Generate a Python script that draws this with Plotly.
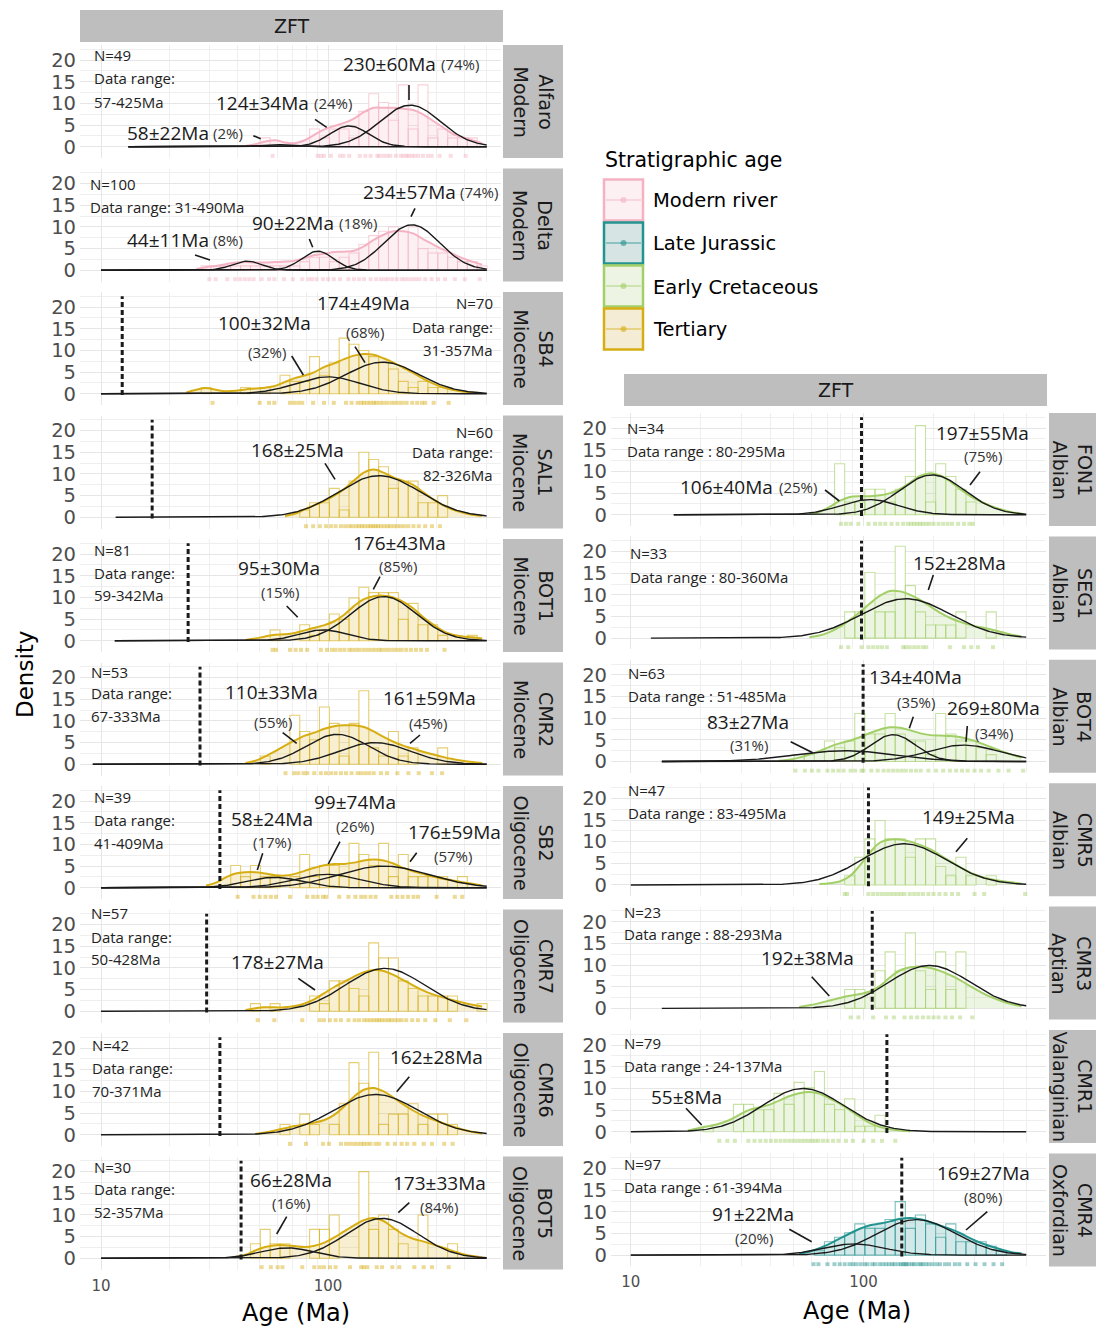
import numpy as np
import plotly.graph_objects as go

W, H = 1096, 1329

# ------------------------------------------------------------------ data
SAMPLES = ["Alfaro", "Delta", "SB4", "SAL1", "BOT1", "CMR2", "SB2", "CMR7", "CMR6", "BOT5",
           "FON1", "SEG1", "BOT4", "CMR5", "CMR3", "CMR1", "CMR4"]
STAGES = ["Modern", "Modern", "Miocene", "Miocene", "Miocene", "Miocene", "Oligocene", "Oligocene",
          "Oligocene", "Oligocene", "Albian", "Albian", "Albian", "Albian", "Aptian", "Valanginian",
          "Oxfordian"]
GROUPS = ["Modern river"] * 2 + ["Tertiary"] * 8 + ["Early Cretaceous"] * 6 + ["Late Jurassic"]
LEGEND_ORDER = ["Modern river", "Late Jurassic", "Early Cretaceous", "Tertiary"]
N_GRAINS = [49, 100, 70, 60, 81, 53, 39, 57, 42, 30, 34, 33, 63, 47, 23, 79, 97]
DATA_MIN = [57, 31, 31, 82, 59, 67, 41, 50, 70, 52, 80, 80, 51, 83, 88, 24, 61]
DATA_MAX = [425, 490, 357, 326, 342, 333, 409, 428, 371, 357, 295, 360, 485, 495, 293, 137, 394]
STRAT_AGE = [None, None, 12.4, 16.8, 24.2, 27.3, 33.4, 29.2, 33.4, 41.4,
             98, 98, 99.6, 105, 109, 126, 146]

# histogram: bins of 0.1 natural-log units, counts of grains per bin
BIN_WIDTH_LOG = 0.04343
BIN_ORIGIN_LOG = 0.008
FIRST_BIN = [39, 33, 33, 43, 40, 39, 36, 38, 41, 38, 43, 44, 39, 44, 44, 30, 41]
COUNTS = [
    [1, 0, 0, 0, 0, 2, 1, 2, 2, 1, 4, 6, 5, 3, 7, 2, 7, 1, 2, 1, 1, 1],
    [1, 1, 1, 1, 1, 1, 1, 1, 1, 1, 2, 3, 3, 2, 3, 4, 6, 8, 9, 10, 9, 10, 5, 4, 4, 3, 2, 2, 1],
    [1, 0, 0, 0, 1, 0, 1, 0, 3, 2, 2, 6, 3, 5, 9, 8, 7, 6, 5, 4, 2, 1, 2, 1, 1],
    [1, 2, 2, 4, 1, 5, 9, 8, 7, 4, 5, 5, 2, 2, 3],
    [2, 0, 0, 3, 1, 2, 5, 4, 8, 10, 9, 9, 9, 4, 7, 3, 3, 1, 0, 0, 1],
    [1, 0, 0, 6, 4, 3, 7, 5, 1, 5, 9, 2, 1, 4, 1, 2, 0, 0, 2],
    [2, 1, 2, 1, 1, 0, 1, 3, 1, 2, 2, 1, 4, 3, 2, 4, 1, 3, 1, 1, 1, 1, 0, 1],
    [1, 0, 1, 0, 0, 0, 2, 1, 4, 4, 3, 2, 9, 7, 7, 4, 3, 2, 2, 2, 2, 0, 0, 1],
    [1, 0, 2, 1, 0, 1, 3, 7, 5, 8, 1, 2, 2, 3, 1, 2, 2, 1],
    [1, 2, 1, 1, 0, 0, 2, 2, 3, 0, 0, 6, 2, 3, 2, 1, 0, 3, 0, 0, 1],
    [4, 1, 1, 2, 2, 1, 2, 3, 7, 1, 4, 3, 2, 1],
    [2, 2, 5, 2, 2, 7, 4, 2, 1, 1, 1, 2, 0, 0, 2],
    [1, 1, 0, 3, 2, 3, 7, 4, 4, 7, 4, 3, 3, 1, 7, 4, 3, 3, 2, 1],
    [1, 3, 5, 7, 5, 5, 3, 5, 5, 2, 1, 3, 1, 0, 1],
    [1, 1, 0, 2, 3, 2, 4, 2, 1, 3, 1, 3],
    [1, 0, 0, 5, 5, 4, 4, 7, 5, 9, 8, 11, 5, 4, 6, 1, 1, 3],
    [1, 3, 4, 5, 7, 6, 6, 8, 12, 6, 9, 7, 4, 7, 3, 3, 3, 2, 1],
]

# kernel density (percent per bin), read at bin centres
KDE_FIRST_BIN = [37, 32, 31, 41, 37, 37, 33, 37, 38, 36, 40, 40, 37, 41, 39, 28, 39]
KDE = [
    [0.2, 0.6, 1.2, 1.5, 1.0, 0.8, 1.5, 2.8, 4.0, 4.8, 5.5, 6.5, 8.0, 9.0, 9.0, 9.0, 8.8, 8.5, 7.5, 6.0, 4.5, 3.0, 2.2, 1.5, 0.8],
    [0.3, 0.7, 1.0, 1.4, 1.8, 1.9, 1.8, 1.8, 1.9, 2.0, 2.2, 2.8, 3.5, 3.8, 4.2, 4.3, 4.5, 5.5, 7.0, 8.2, 9.0, 9.0, 8.5, 7.2, 6.0, 4.8, 3.8, 2.8, 2.0, 1.3],
    [0.3, 0.9, 1.3, 0.9, 0.6, 0.7, 1.0, 1.2, 1.4, 1.8, 2.7, 3.6, 4.2, 5.0, 6.2, 7.0, 8.0, 8.8, 9.2, 9.0, 8.2, 7.2, 6.0, 4.8, 3.5, 2.4, 1.5, 0.9, 0.5, 0.3, 0.2],
    [0.3, 0.8, 1.8, 2.8, 3.8, 5.0, 6.5, 8.5, 10.3, 11.0, 10.3, 9.2, 8.4, 7.5, 5.8, 4.2, 2.8, 1.8, 1.1, 0.6, 0.3],
    [0.2, 0.5, 1.0, 1.4, 1.5, 1.8, 2.4, 3.0, 3.6, 4.5, 6.0, 8.0, 9.6, 10.3, 10.4, 10.0, 9.0, 7.5, 5.5, 3.8, 2.3, 1.4, 1.0, 0.8, 0.5],
    [0.3, 0.8, 1.8, 3.0, 4.3, 5.5, 6.6, 7.3, 8.2, 8.8, 9.0, 9.0, 8.6, 7.6, 6.3, 5.2, 4.3, 3.6, 2.9, 2.3, 1.7, 1.2, 0.8, 0.5, 0.3],
    [0.5, 1.2, 2.4, 3.3, 3.6, 3.6, 3.3, 2.9, 2.8, 3.2, 3.9, 4.6, 5.2, 5.5, 5.5, 5.8, 6.3, 6.5, 6.3, 5.6, 4.6, 3.8, 3.2, 2.6, 2.1, 1.7, 1.3, 0.9, 0.5],
    [0.3, 0.7, 0.9, 0.9, 0.9, 1.2, 1.8, 2.8, 4.2, 5.6, 6.8, 8.0, 9.0, 9.5, 9.3, 8.4, 7.2, 6.0, 4.8, 3.9, 3.2, 2.6, 2.0, 1.5, 1.1],
    [0.2, 0.5, 1.0, 1.5, 2.0, 2.4, 2.8, 3.4, 4.6, 6.5, 8.8, 10.4, 10.8, 10.0, 8.6, 7.0, 5.6, 4.4, 3.5, 2.7, 1.9, 1.2, 0.7, 0.3],
    [0.3, 0.8, 1.8, 2.6, 3.0, 3.0, 2.8, 2.6, 2.9, 3.6, 4.8, 6.2, 7.6, 8.8, 9.3, 8.6, 7.0, 5.5, 4.5, 3.9, 3.2, 2.5, 1.7, 1.0, 0.5, 0.2],
    [0.2, 0.7, 1.8, 3.2, 4.1, 4.3, 4.3, 4.5, 5.0, 6.0, 7.5, 9.0, 9.6, 9.0, 7.6, 5.8, 4.2, 3.0, 2.0, 1.2, 0.6, 0.3],
    [0.2, 0.6, 1.4, 2.6, 4.2, 6.0, 8.0, 9.8, 10.9, 10.8, 10.0, 8.8, 7.3, 5.8, 4.6, 3.7, 3.0, 2.5, 2.0, 1.4, 0.8, 0.4],
    [0.2, 0.4, 0.9, 1.6, 2.4, 3.4, 4.2, 4.8, 5.6, 6.6, 7.4, 7.9, 7.8, 7.2, 6.5, 6.1, 6.0, 5.9, 5.6, 5.0, 4.2, 3.3, 2.4, 1.6, 0.9],
    [0.2, 0.4, 0.8, 2.0, 4.5, 7.5, 9.8, 10.5, 10.5, 10.0, 9.2, 8.2, 6.8, 5.4, 4.0, 2.8, 1.9, 1.3, 0.9, 0.6, 0.3],
    [0.3, 0.7, 1.2, 1.8, 2.4, 2.9, 3.3, 3.9, 5.2, 7.2, 8.8, 9.5, 9.6, 9.3, 8.6, 7.6, 6.4, 5.0, 3.7, 2.6, 1.7, 1.0, 0.5],
    [0.3, 0.8, 1.3, 1.8, 2.6, 3.8, 5.0, 5.6, 6.2, 7.2, 8.2, 8.9, 9.2, 8.8, 7.7, 6.5, 5.0, 3.4, 2.0, 1.1, 0.6, 0.3, 0.1],
    [0.3, 0.8, 1.6, 2.6, 3.8, 5.0, 6.1, 6.9, 7.3, 7.8, 8.4, 8.6, 8.3, 7.6, 6.8, 6.0, 5.0, 3.8, 2.8, 2.0, 1.3, 0.7, 0.4],
]

# fitted peaks: age, error, proportion (%), and drawn peak height
PEAK_AGE = [[58, 124, 230], [44, 90, 234], [100, 174], [168], [95, 176], [110, 161], [58, 99, 176],
            [178], [162], [66, 173], [106, 197], [152], [83, 134, 269], [149], [192], [55], [91, 169]]
PEAK_ERR = [[22, 34, 60], [11, 22, 57], [32, 49], [25], [30, 43], [33, 59], [24, 74, 59],
            [27], [28], [28, 33], [40, 55], [28], [27, 40, 80], [25], [38], [8], [22, 27]]
PEAK_PCT = [[2, 24, 74], [8, 18, 74], [32, 68], [100], [15, 85], [55, 45], [17, 26, 57],
            [100], [100], [16, 84], [25, 75], [100], [31, 35, 34], [100], [100], [100], [20, 80]]
PEAK_HEIGHT = [[0.5, 4.8, 9.6], [2.1, 4.4, 10.5], [3.9, 7.3], [9.6], [2.5, 10.2], [6.9, 5.0],
               [2.4, 3.1, 5.0], [9.9], [9.3], [2.4, 9.2], [3.5, 9.2], [9.1], [2.5, 6.2, 3.8],
               [9.5], [9.9], [10.0], [2.6, 8.2]]
CURVE_START = [13.2, 10, 10, 11.6, 11.5, 9.2, 10, 10, 10, 10, 15.3, 12.2, 13.6, 10, 13.6, 10, 10]
CURVE_END = 500

# single-grain ages (rug)
RUG = [
    [57, 90, 93, 96, 103, 113, 117, 124, 138, 146, 154, 165, 168, 175, 182, 188, 199, 209, 215, 222, 226, 234, 241, 250, 262, 275, 286, 310, 347, 404],
    [30, 32, 36, 39, 41, 43, 45, 47, 51, 55, 58, 64, 70, 77, 82, 85, 89, 95, 100, 106, 113, 123, 130, 137, 144, 154, 163, 171, 178, 184, 192, 201, 211, 218, 226, 235, 244, 253, 268, 286, 305, 328, 362, 400, 466],
    [31, 50, 55, 58, 68, 71, 74, 77, 86, 96, 106, 120, 127, 135, 140, 144, 149, 154, 159, 163, 169, 175, 182, 190, 197, 205, 213, 222, 235, 247, 259, 268, 292, 340],
    [80, 86, 92, 98, 103, 108, 114, 119, 124, 128, 133, 137, 141, 145, 150, 154, 158, 162, 166, 171, 177, 183, 188, 195, 202, 209, 217, 226, 238, 251, 268, 287, 311],
    [57, 59, 68, 72, 76, 81, 93, 99, 104, 108, 113, 118, 124, 128, 133, 138, 144, 150, 156, 162, 168, 173, 180, 187, 195, 203, 211, 221, 232, 244, 257, 273, 326],
    [65, 71, 74, 78, 81, 87, 93, 98, 103, 108, 114, 120, 127, 135, 140, 146, 152, 159, 171, 182, 202, 226, 251, 287, 318],
    [40, 47, 50, 53, 56, 59, 68, 81, 86, 90, 95, 98, 112, 123, 132, 140, 146, 154, 162, 190, 202, 213, 225, 238, 249, 301, 362, 390],
    [49, 58, 77, 92, 96, 102, 108, 114, 123, 131, 137, 144, 149, 154, 159, 164, 168, 173, 179, 185, 190, 197, 204, 211, 221, 235, 249, 268, 297, 344, 407],
    [68, 80, 95, 101, 114, 120, 125, 130, 135, 140, 144, 149, 154, 162, 168, 183, 197, 211, 223, 240, 264, 287, 325, 354],
    [51, 56, 60, 63, 77, 87, 92, 96, 102, 108, 125, 140, 144, 149, 164, 173, 192, 206, 240, 264, 287, 340],
    [80, 84, 88, 95, 105, 112, 118, 124, 132, 140, 148, 155, 160, 165, 170, 175, 180, 186, 192, 200, 210, 220, 230, 240, 255, 270, 285, 295],
    [80, 86, 98, 105, 110, 115, 120, 126, 148, 152, 158, 165, 172, 180, 186, 235, 270, 290, 310, 360],
    [51, 56, 60, 64, 70, 74, 78, 82, 88, 92, 98, 100, 108, 115, 122, 128, 134, 140, 146, 152, 160, 168, 176, 190, 205, 220, 235, 250, 265, 280, 300, 320, 345, 380, 420, 485],
    [83, 85, 105, 110, 115, 120, 125, 130, 135, 140, 145, 150, 158, 165, 172, 180, 190, 200, 212, 225, 240, 255, 300, 330, 495],
    [88, 95, 110, 125, 135, 150, 160, 170, 180, 190, 200, 210, 225, 240, 260, 293],
    [24, 26, 28, 32, 34, 36, 38, 40, 42, 44, 46, 48, 50, 52, 54, 56, 58, 60, 62, 64, 67, 70, 74, 78, 84, 90, 100, 110, 120, 137],
    [61, 64, 70, 75, 79, 83, 87, 90, 93, 97, 101, 104, 109, 112, 117, 121, 125, 129, 133, 136, 141, 145, 148, 151, 153, 157, 162, 165, 171, 176, 179, 185, 191, 198, 206, 213, 224, 233, 247, 258, 279, 303, 331, 362, 394],
]

X_TICKS = [10, 100]
X_MINOR = [20, 30, 40, 50, 60, 70, 80, 90, 200, 300, 400, 500]
Y_TICKS = [0, 5, 10, 15, 20]

# ------------------------------------------------------------------ style
COLORS = {"Modern river": "#F4B2C2", "Late Jurassic": "#23938F",
          "Early Cretaceous": "#A2CF67", "Tertiary": "#D6AE14"}
KEY_FILL = {"Modern river": "#FDF0F3", "Late Jurassic": "#D6E4E4",
            "Early Cretaceous": "#EEF4E4", "Tertiary": "#F4ECD4"}
ANN_FONT = "Open Sans"
SANS = "DejaVu Sans"
STRIP_GREY = "#BEBEBE"
X_RANGE_LEFT = [0.9075, 2.762]
X_RANGE_RIGHT = [0.915, 2.784]
Y_RANGE = [-2.6, 23.5]
RUG_Y = -2.1


def rgba(hexcol, a):
    h = hexcol.lstrip("#")
    r, g, b = int(h[0:2], 16), int(h[2:4], 16), int(h[4:6], 16)
    return f"rgba({r},{g},{b},{a})"


def panel_box(i):
    if i < 10:
        top = 45 + 123.5 * i
        return (80, 501), (top, top + 113)
    top = 413 + 123.4 * (i - 10)
    return (611, 1046), (top, top + 113)


def px(x):
    return x / W


def py(y):
    return 1 - y / H


# label placement (pixel positions)
LABELS = {
    "Alfaro": dict(n=(91.7, 55, "left"), dr=[(91.7, 78, "left"), (91.7, 101.7, "left")], peaks=[
        dict(v=(167.8, 133.3), p=(227.5, 133.3), l=(253.3, 135.7, 260.7, 138.7)),
        dict(v=(262.5, 102.7), p=(332.5, 102.7), l=(315, 119.3, 326.7, 127.3)),
        dict(v=(389.2, 64), p=(460, 64), l=(409, 85, 409, 100))]),
    "Delta": dict(n=(88.3, 184, "left"), dr=[(88.3, 206.7, "left")], peaks=[
        dict(v=(167.8, 240), p=(227.5, 240), l=(195, 255, 210, 260)),
        dict(v=(293.3, 222.7), p=(357.7, 222.7), l=(309.3, 239, 312.7, 247.3)),
        dict(v=(409, 191.7), p=(479, 191.7), l=(415, 208.3, 411, 216.7))]),
    "SB4": dict(n=(495, 303.3, "right"), dr=[(495, 326.7, "right"), (495, 350, "right")], peaks=[
        dict(v=(264.2, 323.3), p=(266.7, 351.7), l=(291.7, 356, 303.3, 375)),
        dict(v=(363.3, 302.7), p=(365, 331.7), l=(355, 346.7, 365, 362.7))]),
    "SAL1": dict(n=(495, 431.7, "right"), dr=[(495, 451.7, "right"), (495, 475, "right")], peaks=[
        dict(v=(297.2, 450), p=None, l=(325, 463.3, 335, 479.3))]),
    "BOT1": dict(n=(91.7, 550, "left"), dr=[(91.7, 573.3, "left"), (91.7, 595, "left")], peaks=[
        dict(v=(279.3, 568.3), p=(279.7, 592.3), l=(286.7, 606, 297.7, 617.3)),
        dict(v=(399.2, 542.7), p=(398.3, 566), l=(380, 576.7, 373.3, 589.3))]),
    "CMR2": dict(n=(89.3, 671.7, "left"), dr=[(89.3, 693.3, "left"), (89.3, 716, "left")], peaks=[
        dict(v=(271.8, 691.7), p=(273.3, 722.3), l=(282.7, 732.7, 296.7, 743.3)),
        dict(v=(429.2, 698.3), p=(428.3, 722.7), l=(420, 735, 410, 743.3))]),
    "SB2": dict(n=(91.7, 796.7, "left"), dr=[(91.7, 820, "left"), (91.7, 842.7, "left")], peaks=[
        dict(v=(272.2, 819.3), p=(271.7, 841.7), l=(262.7, 853.3, 257.3, 870)),
        dict(v=(355, 801.7), p=(355, 825.7), l=(340, 841.7, 328.3, 864)),
        dict(v=(454.2, 831.7), p=(453.3, 856), l=(416.7, 852.7, 410, 861.7))]),
    "CMR7": dict(n=(89.3, 913.3, "left"), dr=[(89.3, 936.7, "left"), (89.3, 959.3, "left")], peaks=[
        dict(v=(277.7, 961.7), p=None, l=(298.3, 978.3, 315, 990))]),
    "CMR6": dict(n=(90, 1045, "left"), dr=[(90, 1068.3, "left"), (90, 1090.7, "left")], peaks=[
        dict(v=(436.7, 1056.7), p=None, l=(409.3, 1076.7, 396.7, 1091.7))]),
    "BOT5": dict(n=(91.7, 1166.7, "left"), dr=[(91.7, 1189.3, "left"), (91.7, 1211.7, "left")], peaks=[
        dict(v=(290.8, 1180), p=(291.3, 1203.3), l=(286.7, 1216.7, 276.7, 1234)),
        dict(v=(439.7, 1183.3), p=(439.2, 1206.7), l=(409.3, 1202.7, 398.3, 1212.7))]),
    "FON1": dict(n=(625, 428.3, "left"), dr=[(625, 451, "left")], peaks=[
        dict(v=(726.7, 486.7), p=(798.3, 486.7), l=(825, 490, 839.3, 501)),
        dict(v=(982.5, 432.7), p=(983.3, 456), l=(980, 471.7, 970, 485))]),
    "SEG1": dict(n=(628.3, 553.3, "left"), dr=[(628.3, 576.7, "left")], peaks=[
        dict(v=(959.2, 563.3), p=None, l=(933.3, 575, 928.3, 590))]),
    "BOT4": dict(n=(626, 673.3, "left"), dr=[(626, 696, "left")], peaks=[
        dict(v=(747.5, 721.7), p=(748.7, 745), l=(790.7, 741.7, 812.7, 752.7)),
        dict(v=(915.8, 677.3), p=(915.8, 701.7), l=(913.3, 716.7, 909.3, 728.3)),
        dict(v=(993.3, 708.3), p=(994.2, 733.3), l=(967.3, 726, 966, 741.7))]),
    "CMR5": dict(n=(626, 790, "left"), dr=[(626, 813.3, "left")], peaks=[
        dict(v=(968, 816.7), p=None, l=(967.3, 838.3, 956, 851.7))]),
    "CMR3": dict(n=(621.7, 911.7, "left"), dr=[(621.7, 934.3, "left")], peaks=[
        dict(v=(807.8, 958.3), p=None, l=(811.7, 976.7, 829.3, 996))]),
    "CMR1": dict(n=(621.7, 1042.7, "left"), dr=[(621.7, 1065.7, "left")], peaks=[
        dict(v=(686.7, 1096.7), p=None, l=(686, 1108.3, 701.7, 1125))]),
    "CMR4": dict(n=(621.7, 1164, "left"), dr=[(621.7, 1186.7, "left")], peaks=[
        dict(v=(753.3, 1214), p=(754.3, 1238.3), l=(789.3, 1229.3, 811.7, 1241.7)),
        dict(v=(983.3, 1172.7), p=(982.5, 1196.7), l=(987.3, 1211.7, 966, 1230))]),
}

fig = go.Figure()
layout = {}
annotations = []
shapes = []


def text(x, y, s, size, anchor="center", family=ANN_FONT, color="#1a1a1a", angle=0):
    annotations.append(dict(x=px(x), y=py(y), xref="paper", yref="paper", text=s, showarrow=False,
                            xanchor=anchor, yanchor="middle", textangle=angle,
                            font=dict(family=family, size=size, color=color)))


for i, name in enumerate(SAMPLES):
    n = i + 1
    xa = "x" if n == 1 else f"x{n}"
    ya = "y" if n == 1 else f"y{n}"
    (x0, x1), (t, b) = panel_box(i)
    bottom_row = i in (9, 16)
    layout["xaxis" if n == 1 else f"xaxis{n}"] = dict(
        domain=[px(x0), px(x1)], anchor=ya, type="log",
        range=X_RANGE_LEFT if i < 10 else X_RANGE_RIGHT,
        tickmode="array", tickvals=X_TICKS, ticktext=[str(v) for v in X_TICKS],
        showticklabels=bottom_row, ticks="", ticklabelstandoff=5,
        tickfont=dict(family=SANS, size=15, color="#4D4D4D"),
        showgrid=True, gridcolor="#E6E6E6", gridwidth=1.1, zeroline=False, showline=False,
        minor=dict(tickmode="array", tickvals=X_MINOR, showgrid=True, gridcolor="#EFEFEF", gridwidth=0.9),
        fixedrange=True)
    layout["yaxis" if n == 1 else f"yaxis{n}"] = dict(
        domain=[py(b), py(t)], anchor=xa, range=Y_RANGE, tickmode="array", tickvals=Y_TICKS,
        ticks="", ticklabelstandoff=3, tickfont=dict(family=SANS, size=19.5, color="#4D4D4D"),
        showgrid=True, gridcolor="#E6E6E6", gridwidth=1.1, zeroline=False, showline=False,
        minor=dict(tick0=0, dtick=2.5, showgrid=True, gridcolor="#EFEFEF", gridwidth=0.9),
        fixedrange=True)

    col = COLORS[GROUPS[i]]
    # histogram bars
    ks = np.arange(FIRST_BIN[i], FIRST_BIN[i] + len(COUNTS[i]) + 1)
    edges = 10 ** (BIN_ORIGIN_LOG + BIN_WIDTH_LOG * ks)
    pct = 100.0 * np.array(COUNTS[i]) / N_GRAINS[i]
    bx, by = [], []
    for k, v in enumerate(pct):
        if v <= 0:
            continue
        a, c = edges[k], edges[k + 1]
        bx += [a, a, c, c, a, None]
        by += [0, v, v, 0, 0, None]
    fig.add_trace(go.Scatter(x=bx, y=by, xaxis=xa, yaxis=ya, mode="lines", fill="toself",
                             fillcolor="white", line=dict(color=rgba(col, 0.6), width=1.1),
                             showlegend=False, hoverinfo="skip"))
    # KDE
    kc = 10 ** (BIN_ORIGIN_LOG + BIN_WIDTH_LOG * (KDE_FIRST_BIN[i] + np.arange(len(KDE[i])) + 0.5))
    fig.add_trace(go.Scatter(x=kc, y=KDE[i], xaxis=xa, yaxis=ya, mode="lines",
                             line=dict(color=col, width=2, shape="spline", smoothing=1.0),
                             fill="tozeroy", fillcolor=rgba(col, 0.2),
                             showlegend=False, hoverinfo="skip"))
    # peak components
    xs = np.logspace(np.log10(CURVE_START[i]), np.log10(CURVE_END), 300)
    for mu, p, h in zip(PEAK_AGE[i], PEAK_PCT[i], PEAK_HEIGHT[i]):
        sig = (p / 100.0) * 100.0 * BIN_WIDTH_LOG / (h * np.sqrt(2 * np.pi))
        ys = h * np.exp(-0.5 * ((np.log10(xs) - np.log10(mu)) / sig) ** 2)
        fig.add_trace(go.Scatter(x=xs, y=ys, xaxis=xa, yaxis=ya, mode="lines",
                                 line=dict(color="#1a1a1a", width=1.4),
                                 showlegend=False, hoverinfo="skip"))
    # rug
    fig.add_trace(go.Scatter(x=RUG[i], y=[RUG_Y] * len(RUG[i]), xaxis=xa, yaxis=ya, mode="markers",
                             marker=dict(color=rgba(col, 0.45), size=4, symbol="square"),
                             showlegend=False, hoverinfo="skip"))
    # stratigraphic age
    if STRAT_AGE[i] is not None:
        fig.add_trace(go.Scatter(x=[STRAT_AGE[i], STRAT_AGE[i]], y=[-0.3, 22.5], xaxis=xa, yaxis=ya,
                                 mode="lines", line=dict(color="#1a1a1a", width=3, dash="5px,3px"),
                                 showlegend=False, hoverinfo="skip"))

    # facet strip on the right
    sx0, sx1 = (503, 563) if i < 10 else (1049, 1100)
    shapes.append(dict(type="rect", xref="paper", yref="paper", x0=px(sx0), x1=px(sx1),
                       y0=py(b), y1=py(t), fillcolor=STRIP_GREY, line=dict(width=0), layer="below"))
    text((sx0 + sx1) / 2 if i < 10 else 1072, (t + b) / 2, f"{name}<br>{STAGES[i]}", 19,
         family=SANS, color="#1a1a1a", angle=90)

    # annotations
    L = LABELS[name]
    text(L["n"][0], L["n"][1], f"N={N_GRAINS[i]}", 15, anchor=L["n"][2], color="#222")
    rng = f"{DATA_MIN[i]}-{DATA_MAX[i]}Ma"
    if i >= 10:
        lines = [f"Data range : {rng}"]
    elif len(L["dr"]) == 1:
        lines = [f"Data range: {rng}"]
    else:
        lines = ["Data range:", rng]
    for (lx, ly, la), s in zip(L["dr"], lines):
        text(lx, ly, s, 15, anchor=la, color="#222")
    for pk, mu, err, p in zip(L["peaks"], PEAK_AGE[i], PEAK_ERR[i], PEAK_PCT[i]):
        text(pk["v"][0], pk["v"][1], f"{mu}±{err}Ma", 19)
        if pk["p"] is not None:
            text(pk["p"][0], pk["p"][1], f"({p}%)", 15, color="#333")
        lx1, ly1, lx2, ly2 = pk["l"]
        shapes.append(dict(type="line", xref="paper", yref="paper", x0=px(lx1), y0=py(ly1),
                           x1=px(lx2), y1=py(ly2), line=dict(color="#1a1a1a", width=1.6)))

# column header strips
for (hx0, hx1, hy0, hy1) in [(80, 503, 10, 42), (624, 1047, 374, 406)]:
    shapes.append(dict(type="rect", xref="paper", yref="paper", x0=px(hx0), x1=px(hx1),
                       y0=py(hy1), y1=py(hy0), fillcolor=STRIP_GREY, line=dict(width=0), layer="below"))
    text((hx0 + hx1) / 2, (hy0 + hy1) / 2, "ZFT", 19, family=SANS, color="#1a1a1a")

# axis titles
text(25, 675, "Density", 23, family=SANS, color="#000", angle=-90)
text(296, 1313, "Age (Ma)", 24, family=SANS, color="#000")
text(857, 1311, "Age (Ma)", 24, family=SANS, color="#000")

# legend
text(603, 160, "Stratigraphic age", 20.5, anchor="left", family=SANS, color="#000")
for j, g in enumerate(LEGEND_ORDER):
    ky0 = 179.5 + 43 * j
    ky1 = ky0 + 41
    c = COLORS[g]
    shapes.append(dict(type="rect", xref="paper", yref="paper", x0=px(604), x1=px(643),
                       y0=py(ky1), y1=py(ky0), fillcolor=KEY_FILL[g], line=dict(color=c, width=2.5)))
    shapes.append(dict(type="line", xref="paper", yref="paper", x0=px(606), x1=px(641),
                       y0=py((ky0 + ky1) / 2), y1=py((ky0 + ky1) / 2), line=dict(color=rgba(c, 0.55), width=1.5)))
    shapes.append(dict(type="circle", xref="paper", yref="paper", x0=px(620.5), x1=px(626.5),
                       y0=py((ky0 + ky1) / 2 + 3), y1=py((ky0 + ky1) / 2 - 3),
                       fillcolor=rgba(c, 0.6), line=dict(width=0)))
    text(651, (ky0 + ky1) / 2 + 1, g, 19.5, anchor="left", family=SANS, color="#000")

fig.update_layout(width=W, height=H, margin=dict(l=0, r=0, t=0, b=0), autosize=False,
                  paper_bgcolor="white", plot_bgcolor="white", showlegend=False,
                  annotations=annotations, shapes=shapes, **layout)
fig.write_html("out.html", config={"displayModeBar": False},
               post_script="document.body.style.margin='0';document.body.style.padding='0';")
